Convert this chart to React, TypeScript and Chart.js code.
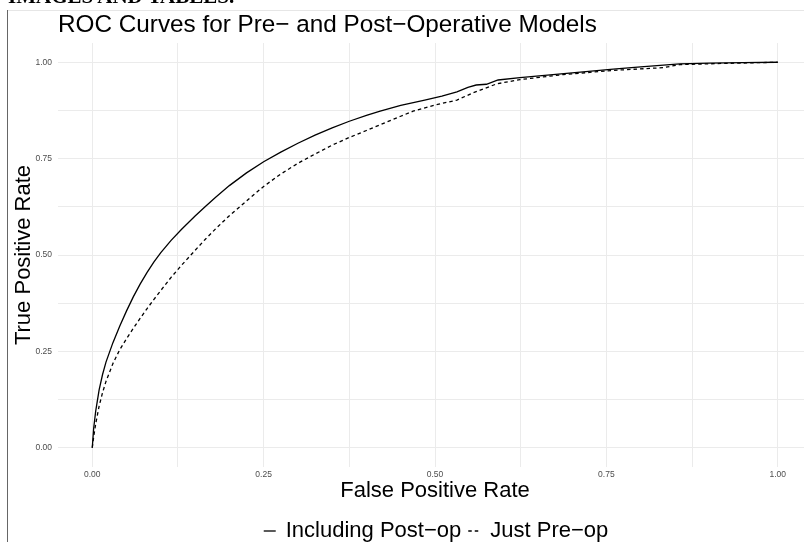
import React, { useEffect, useRef } from 'react';
import { Chart, registerables } from 'chart.js';

Chart.register(...registerables);

const FONT = "'Liberation Sans', Arial, Helvetica, sans-serif";

const chartTitle = 'ROC Curves for Pre\u2212 and Post\u2212Operative Models';
const xAxisTitle = 'False Positive Rate';
const yAxisTitle = 'True Positive Rate';
const seriesLabels = ['Including Post\u2212op', 'Just Pre\u2212op'];

const gridValues = [0, 0.125, 0.25, 0.375, 0.5, 0.625, 0.75, 0.875, 1];
const tickValues = [0, 0.25, 0.5, 0.75, 1];
const tickLabels = ['0.00', '0.25', '0.50', '0.75', '1.00'];

// Including Post-op (solid)
const fprPost = [0, 0.002, 0.005, 0.01, 0.015, 0.02, 0.03, 0.04, 0.05, 0.06, 0.07, 0.08, 0.09, 0.1, 0.115, 0.13, 0.15, 0.165, 0.18, 0.2, 0.225, 0.25, 0.275, 0.3, 0.325, 0.35, 0.375, 0.4, 0.42, 0.45, 0.485, 0.51, 0.532, 0.548, 0.56, 0.575, 0.592, 0.624, 0.672, 0.72, 0.76, 0.8, 0.857, 0.9, 0.95, 1.0];
const tprPost = [0, 0.05, 0.095, 0.15, 0.19, 0.222, 0.272, 0.315, 0.355, 0.392, 0.425, 0.455, 0.482, 0.506, 0.538, 0.566, 0.601, 0.626, 0.65, 0.68, 0.713, 0.742, 0.767, 0.79, 0.811, 0.83, 0.847, 0.862, 0.873, 0.888, 0.902, 0.912, 0.923, 0.935, 0.941, 0.943, 0.954, 0.96, 0.968, 0.976, 0.982, 0.988, 0.996, 0.998, 0.999, 1.0];

// Just Pre-op (dashed)
const fprPre = [0, 0.002, 0.005, 0.01, 0.015, 0.02, 0.03, 0.04, 0.05, 0.06, 0.07, 0.08, 0.09, 0.1, 0.115, 0.13, 0.15, 0.165, 0.18, 0.2, 0.225, 0.25, 0.275, 0.3, 0.325, 0.35, 0.375, 0.4, 0.42, 0.45, 0.468, 0.5, 0.532, 0.556, 0.59, 0.624, 0.687, 0.76, 0.833, 0.857, 0.92, 1.0];
const tprPre = [0, 0.028, 0.062, 0.108, 0.143, 0.172, 0.218, 0.254, 0.283, 0.31, 0.336, 0.361, 0.385, 0.408, 0.442, 0.473, 0.512, 0.541, 0.568, 0.602, 0.64, 0.678, 0.71, 0.738, 0.762, 0.785, 0.805, 0.823, 0.838, 0.86, 0.873, 0.889, 0.902, 0.921, 0.944, 0.955, 0.968, 0.979, 0.986, 0.994, 0.997, 1.0];

const overlayPlugin = {
  id: 'overlayText',
  afterDraw(chart: any) {
    const { ctx, chartArea } = chart;
    ctx.save();
    ctx.fillStyle = '#000';
    ctx.textAlign = 'left';
    ctx.textBaseline = 'alphabetic';
    ctx.font = `24.3px ${FONT}`;
    ctx.fillText(chartTitle, chartArea.left, 31.5);

    ctx.font = `22px ${FONT}`;
    const keyW = 12;
    const keyGap = 10;
    const itemGap = 7;
    const items = chart.data.datasets.map((ds: any) => ({
      label: ds.label,
      dash: ds.borderDash || [],
      color: ds.borderColor,
      lw: ds.borderWidth,
      w: ctx.measureText(ds.label).width,
    }));
    const total = items.reduce((s: number, it: any) => s + keyW + keyGap + it.w, 0) + itemGap * (items.length - 1);
    let x = (chartArea.left + chartArea.right) / 2 - total / 2 + 1;
    const y = chart.height - 11;
    items.forEach((it: any) => {
      ctx.beginPath();
      ctx.setLineDash(it.dash);
      ctx.lineWidth = it.lw;
      ctx.strokeStyle = it.color;
      ctx.moveTo(x, y);
      ctx.lineTo(x + keyW, y);
      ctx.stroke();
      ctx.setLineDash([]);
      x += keyW + keyGap;
      ctx.textBaseline = 'middle';
      ctx.fillText(it.label, x, y);
      x += it.w + itemGap;
    });
    ctx.restore();
  },
};

export default function App() {
  const canvasRef = useRef<HTMLCanvasElement | null>(null);

  useEffect(() => {
    const canvas = canvasRef.current;
    if (!canvas) return;
    const tickCb = (v: any) => {
      const i = tickValues.indexOf(Number(v));
      return i >= 0 ? tickLabels[i] : '';
    };
    const chart = new Chart(canvas, {
      type: 'scatter',
      data: {
        datasets: [
          {
            label: seriesLabels[0],
            data: fprPost.map((x, i) => ({ x, y: tprPost[i] })),
            showLine: true,
            borderColor: '#000000',
            backgroundColor: '#000000',
            borderWidth: 1.3,
            pointRadius: 0,
            pointHoverRadius: 0,
            tension: 0,
            fill: false,
          },
          {
            label: seriesLabels[1],
            data: fprPre.map((x, i) => ({ x, y: tprPre[i] })),
            showLine: true,
            borderColor: '#000000',
            backgroundColor: '#000000',
            borderWidth: 1.3,
            borderDash: [3.5, 3],
            pointRadius: 0,
            pointHoverRadius: 0,
            tension: 0,
            fill: false,
          },
        ],
      },
      options: {
        responsive: false,
        animation: false,
        devicePixelRatio: 1,
        layout: { padding: { left: 9, top: 43, right: 0, bottom: 30 } },
        plugins: {
          legend: { display: false },
          title: { display: false },
          tooltip: { enabled: false },
        },
        scales: {
          x: {
            type: 'linear',
            min: -0.05,
            max: 1.05,
            afterBuildTicks: (s: any) => {
              s.ticks = gridValues.map((v) => ({ value: v }));
            },
            afterFit: (s: any) => {
              s.height = 45;
            },
            grid: { color: '#ebebeb', lineWidth: 1, drawTicks: false },
            border: { display: false },
            ticks: {
              autoSkip: false,
              maxRotation: 0,
              padding: 2.4,
              color: '#4d4d4d',
              font: { size: 8.5, family: FONT },
              callback: tickCb,
            },
            title: {
              display: true,
              text: xAxisTitle,
              color: '#000',
              font: { size: 22, family: FONT },
              padding: { top: 0, bottom: 7.5 },
            },
          },
          y: {
            type: 'linear',
            min: -0.05,
            max: 1.05,
            afterBuildTicks: (s: any) => {
              s.ticks = gridValues.map((v) => ({ value: v }));
            },
            afterFit: (s: any) => {
              s.width = 49;
            },
            grid: { color: '#ebebeb', lineWidth: 1, drawTicks: false },
            border: { display: false },
            ticks: {
              autoSkip: false,
              padding: 6,
              color: '#4d4d4d',
              font: { size: 8.5, family: FONT },
              callback: tickCb,
            },
            title: {
              display: true,
              text: yAxisTitle,
              color: '#000',
              font: { size: 22, family: FONT },
              padding: { top: 1.8, bottom: 0 },
            },
          },
        },
      },
      plugins: [overlayPlugin],
    } as any);
    return () => chart.destroy();
  }, []);

  return (
    <div
      style={{
        position: 'absolute',
        left: 0,
        top: 0,
        width: 804,
        height: 542,
        overflow: 'hidden',
        background: '#ffffff',
      }}
    >
      <canvas ref={canvasRef} width={812} height={542} style={{ display: 'block', width: 812, height: 542 }} />
      <div
        style={{
          position: 'absolute',
          left: 8,
          top: -14,
          fontFamily: "'Liberation Serif', 'Times New Roman', serif",
          fontWeight: 'bold',
          fontSize: 21,
          lineHeight: '21px',
          whiteSpace: 'nowrap',
          color: '#000',
        }}
      >
        IMAGES AND TABLES.
      </div>
      <div style={{ position: 'absolute', left: 7, top: 10, width: 797, height: 1, background: '#e6e6e6' }} />
      <div style={{ position: 'absolute', left: 7, top: 10, width: 1, height: 532, background: '#666666' }} />
    </div>
  );
}
